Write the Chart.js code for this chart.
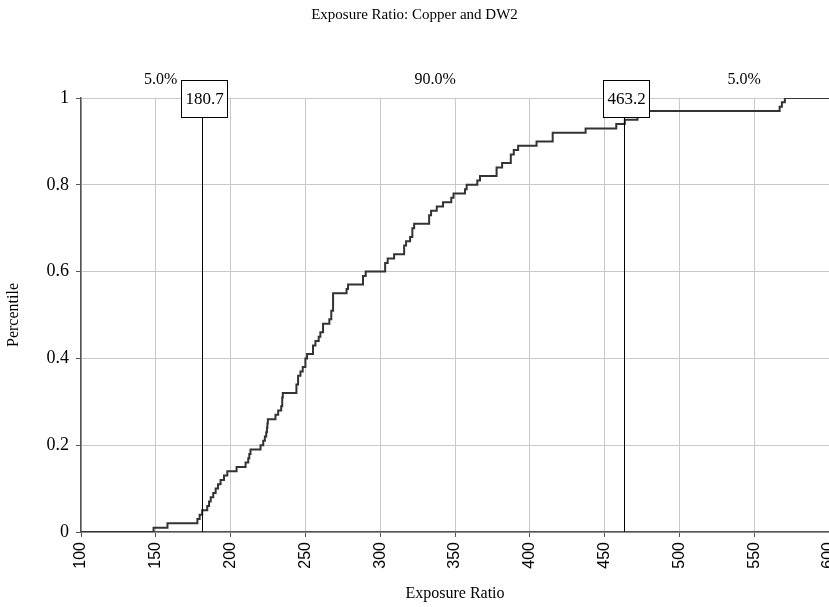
<!DOCTYPE html>
<html>
<head>
<meta charset="utf-8">
<script src="https://cdn.jsdelivr.net/npm/chart.js@4.4.0/dist/chart.umd.min.js"></script>
<style>
  html, body { margin: 0; padding: 0; background: #fff; overflow: hidden; }
  #wrap { width: 829px; height: 607px; }
</style>
</head>
<body>
<div id="wrap"><canvas id="ecdf" width="829" height="607"></canvas></div>
<script>
// exposure ratio where each step of the cumulative curve happens
const ratioValues = [
  100, 148.5, 157.8, 177.8, 179.3, 181, 184.4, 185.6, 186.7, 188.4,
  190, 191.6, 193.3, 195.6, 197.8, 204, 210, 211.8, 212.5, 213.3,
  220, 221.8, 222.9, 223.8, 224.3, 224.6, 224.9, 230, 231.8, 233.8,
  234.5, 234.9, 244, 245.1, 246.7, 248.2, 250, 251.1, 255.1, 256.7,
  258.9, 260, 261.8, 266, 267.3, 268.5, 277.5, 278.5, 288.5, 290.3,
  303.3, 305, 309.3, 316, 317.3, 320, 321.5, 322.7, 332.7, 334,
  337.8, 342, 347.5, 349, 356.7, 357.8, 364.9, 366.7, 377.8, 381.5,
  387.3, 389.3, 392.2, 404.5, 415.3, 437.3, 457.8, 463.5, 472, 478,
  567, 568.5, 570.5, 600
];
// percentile reached after each step
const percentileValues = [
  0, 0.01, 0.02, 0.03, 0.04, 0.05, 0.06, 0.07, 0.08, 0.09,
  0.10, 0.11, 0.12, 0.13, 0.14, 0.15, 0.16, 0.17, 0.18, 0.19,
  0.20, 0.21, 0.22, 0.23, 0.24, 0.25, 0.26, 0.27, 0.28, 0.29,
  0.31, 0.32, 0.34, 0.36, 0.37, 0.38, 0.40, 0.41, 0.43, 0.44,
  0.45, 0.46, 0.48, 0.49, 0.51, 0.55, 0.56, 0.57, 0.59, 0.60,
  0.62, 0.63, 0.64, 0.66, 0.67, 0.68, 0.70, 0.71, 0.73, 0.74,
  0.75, 0.76, 0.77, 0.78, 0.79, 0.80, 0.81, 0.82, 0.84, 0.85,
  0.87, 0.88, 0.89, 0.90, 0.92, 0.93, 0.94, 0.95, 0.96, 0.97,
  0.98, 0.99, 1.00, 1.00
];

const markerValues = [180.7, 463.2];
const bandLabels = ['5.0%', '90.0%', '5.0%'];
const bandLabelAt = [153.3, 336.7, 543.3]; // in exposure ratio units

const serif = '"Liberation Serif", "Times New Roman", serif';
const sans = '"Liberation Sans", Arial, sans-serif';

var points = ratioValues.map((v, i) => ({ x: v, y: percentileValues[i] }));

const markerPlugin = {
  id: 'markers',
  afterDatasetsDraw(chart) {
    var ctx = chart.ctx;
    var area = chart.chartArea;
    var xs = chart.scales.x;

    ctx.save();
    ctx.strokeStyle = '#000';
    ctx.lineWidth = 1;
    markerValues.forEach(v => {
      var px = Math.round(xs.getPixelForValue(v)) + 0.5;
      ctx.beginPath();
      ctx.moveTo(px, area.bottom);
      ctx.lineTo(px, area.top);
      ctx.stroke();
    });

    // boxed values at the top of each marker line
    ctx.font = '17px ' + serif;
    ctx.textAlign = 'center';
    ctx.textBaseline = 'middle';
    markerValues.forEach(v => {
      var px = Math.round(xs.getPixelForValue(v)) + 0.5;
      var label = v.toFixed(1);
      var w = ctx.measureText(label).width + 8;
      var h = 37;
      var top = area.top - 18;
      ctx.fillStyle = '#fff';
      ctx.fillRect(px - w / 2 + 2, top, w, h);
      ctx.strokeRect(Math.round(px - w / 2 + 2) + 0.5, top + 0.5, Math.round(w), h);
      ctx.fillStyle = '#000';
      ctx.fillText(label, px + 2, top + h / 2 + 1);
    });

    ctx.font = '16px ' + serif;
    ctx.textBaseline = 'middle';
    bandLabels.forEach((t, i) => {
      ctx.fillText(t, xs.getPixelForValue(bandLabelAt[i]), area.top - 18);
    });
    ctx.restore();
  }
};

var data = {
  datasets: [
    {
      label: 'Exposure Ratio',
      data: points,
      borderColor: '#333333',
      borderWidth: 2,
      pointRadius: 0,
      stepped: true,
      fill: false,
    },
  ],
};

var options = {
  responsive: false,
  animation: false,
  layout: { padding: 0 },
  scales: {
    x: {
      type: 'linear',
      min: 100,
      max: 600,
      ticks: {
        stepSize: 50,
        minRotation: 90,
        maxRotation: 90,
        padding: 5,
        color: '#000',
        font: { family: sans, size: 16 },
      },
      grid: { color: '#c8c8c8', tickLength: 5, tickColor: '#555' },
      border: { color: '#555', width: 1.5 },
      title: {
        display: true,
        text: 'Exposure Ratio',
        color: '#000',
        font: { family: serif, size: 16 },
        padding: { top: 4, bottom: 4 },
      },
      afterFit: scale => {
        scale.height = 75;
        scale.paddingLeft = 0;
        scale.paddingRight = 0;
      },
    },
    y: {
      min: 0,
      max: 1,
      ticks: {
        stepSize: 0.2,
        padding: 7,
        color: '#000',
        font: { family: serif, size: 18 },
        callback: value => String(Number(value.toFixed(1))),
      },
      grid: { color: '#c8c8c8', tickLength: 5, tickColor: '#555' },
      border: { color: '#555', width: 1.5 },
      title: {
        display: true,
        text: 'Percentile',
        color: '#000',
        font: { family: serif, size: 16 },
        padding: { top: 4, bottom: 4 },
      },
      afterFit: scale => {
        scale.width = 81;
      },
    },
  },
  plugins: {
    legend: { display: false },
    tooltip: { enabled: false },
    title: {
      display: true,
      text: 'Exposure Ratio: Copper and DW2',
      color: '#000',
      font: { family: serif, size: 15, weight: 'normal' },
      padding: { top: 6, bottom: 74 },
    },
  },
};

var canvas = document.getElementById('ecdf');
new Chart(canvas.getContext('2d'), {
  type: 'line',
  data: data,
  options: options,
  plugins: [markerPlugin],
});
</script>
</body>
</html>
